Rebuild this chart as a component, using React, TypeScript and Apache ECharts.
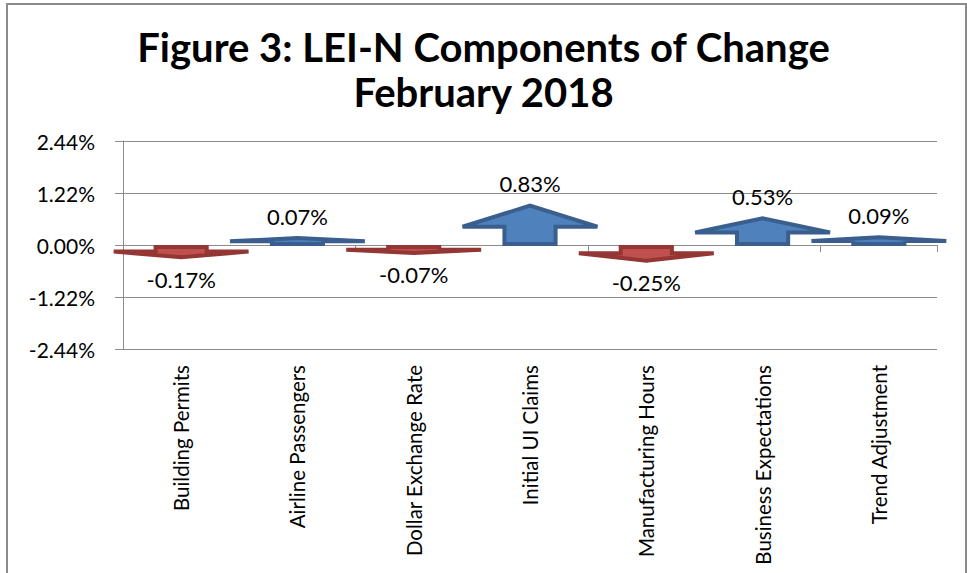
import React, { useEffect, useRef } from "react";
import * as echarts from "echarts";

const categories = [
  "Building Permits",
  "Airline Passengers",
  "Dollar Exchange Rate",
  "Initial UI Claims",
  "Manufacturing Hours",
  "Business Expectations",
  "Trend Adjustment",
];
const changes = [-0.17, 0.07, -0.07, 0.83, -0.25, 0.53, 0.09];
const yMin = -2.44;
const yMax = 2.44;
const yStep = 1.22;
const titleText = "Figure 3: LEI-N Components of Change\nFebruary 2018";

const FONT = "Lato, 'Open Sans', sans-serif";

export default function App() {
  const ref = useRef<HTMLDivElement>(null);
  useEffect(() => {
    document.body.style.margin = "0";
    const chart = echarts.init(ref.current!, null, { renderer: "svg" });
    const data = changes.map((v, i) => [i, v]);
    chart.setOption({
      animation: false,
      backgroundColor: "#ffffff",
      title: {
        text: titleText,
        left: "center",
        top: 19,
        textStyle: {
          fontFamily: FONT,
          fontWeight: "bold",
          fontSize: 40,
          lineHeight: 45,
          color: "#000",
        },
      },
      graphic: [
        {
          type: "rect",
          shape: { x: 7, y: 4, width: 959, height: 620 },
          style: { fill: "none", stroke: "#8a8a8a", lineWidth: 2 },
          silent: true,
        },
      ],
      grid: { left: 123, right: 30, top: 141, bottom: 224 },
      xAxis: [
        {
          type: "category",
          data: categories,
          boundaryGap: true,
          axisLine: { onZero: true, lineStyle: { color: "#8c8c8c", width: 1 } },
          axisTick: { show: true, length: 7, lineStyle: { color: "#8c8c8c" } },
          axisLabel: { show: false },
          splitLine: { show: false },
        },
        {
          type: "category",
          data: categories,
          position: "bottom",
          boundaryGap: true,
          axisLine: { show: false, onZero: false },
          axisTick: { show: false },
          axisLabel: {
            rotate: 90,
            margin: 16,
            fontFamily: FONT,
            fontSize: 20.5,
            color: "#000",
          },
        },
      ],
      yAxis: {
        type: "value",
        min: yMin,
        max: yMax,
        interval: yStep,
        axisLine: { show: true, lineStyle: { color: "#8c8c8c" } },
        axisTick: { show: true, length: 8, lineStyle: { color: "#8c8c8c" } },
        axisLabel: {
          margin: 28,
          fontFamily: FONT,
          fontSize: 21,
          color: "#000",
          formatter: (v: number) => v.toFixed(2) + "%",
        },
        splitLine: { show: true, lineStyle: { color: "#8c8c8c", width: 1 } },
      },
      series: [
        {
          type: "custom",
          xAxisIndex: 0,
          data,
          clip: false,
          renderItem: (params: any, api: any) => {
            const i = api.value(0);
            const v = api.value(1);
            const base = api.coord([i, 0]);
            const tip = api.coord([i, v]);
            const band = api.size([1, 0])[0];
            const up = v >= 0;
            const dir = up ? -1 : 1;
            const len = Math.abs(tip[1] - base[1]) + 3;
            const y0 = base[1] + (up ? -1 : 2);
            const tipY = y0 + dir * len;
            const headY = y0 + dir * len * 0.45;
            const sw = band * 0.22;
            const hw = band * 0.58;
            const cx = base[0];
            const fill = up ? "#4F81BD" : "#C0504D";
            const stroke = up ? "#3A5F8E" : "#943634";
            const labelY = tipY + dir * 22;
            return {
              type: "group",
              children: [
                {
                  type: "polygon",
                  shape: {
                    points: [
                      [cx - sw, y0],
                      [cx - sw, headY],
                      [cx - hw, headY],
                      [cx, tipY],
                      [cx + hw, headY],
                      [cx + sw, headY],
                      [cx + sw, y0],
                    ],
                  },
                  style: { fill, stroke, lineWidth: 4, lineJoin: "miter" },
                },
                {
                  type: "text",
                  x: cx,
                  y: labelY,
                  style: {
                    text: (v >= 0 ? "" : "-") + Math.abs(v).toFixed(2) + "%",
                    align: "center",
                    verticalAlign: "middle",
                    fontFamily: FONT,
                    fontSize: 22,
                    fill: "#000",
                  },
                },
              ],
            };
          },
        },
      ],
    });
    return () => chart.dispose();
  }, []);
  return (
    <div
      ref={ref}
      style={{ position: "fixed", left: 0, top: 0, width: 967, height: 573 }}
    />
  );
}
